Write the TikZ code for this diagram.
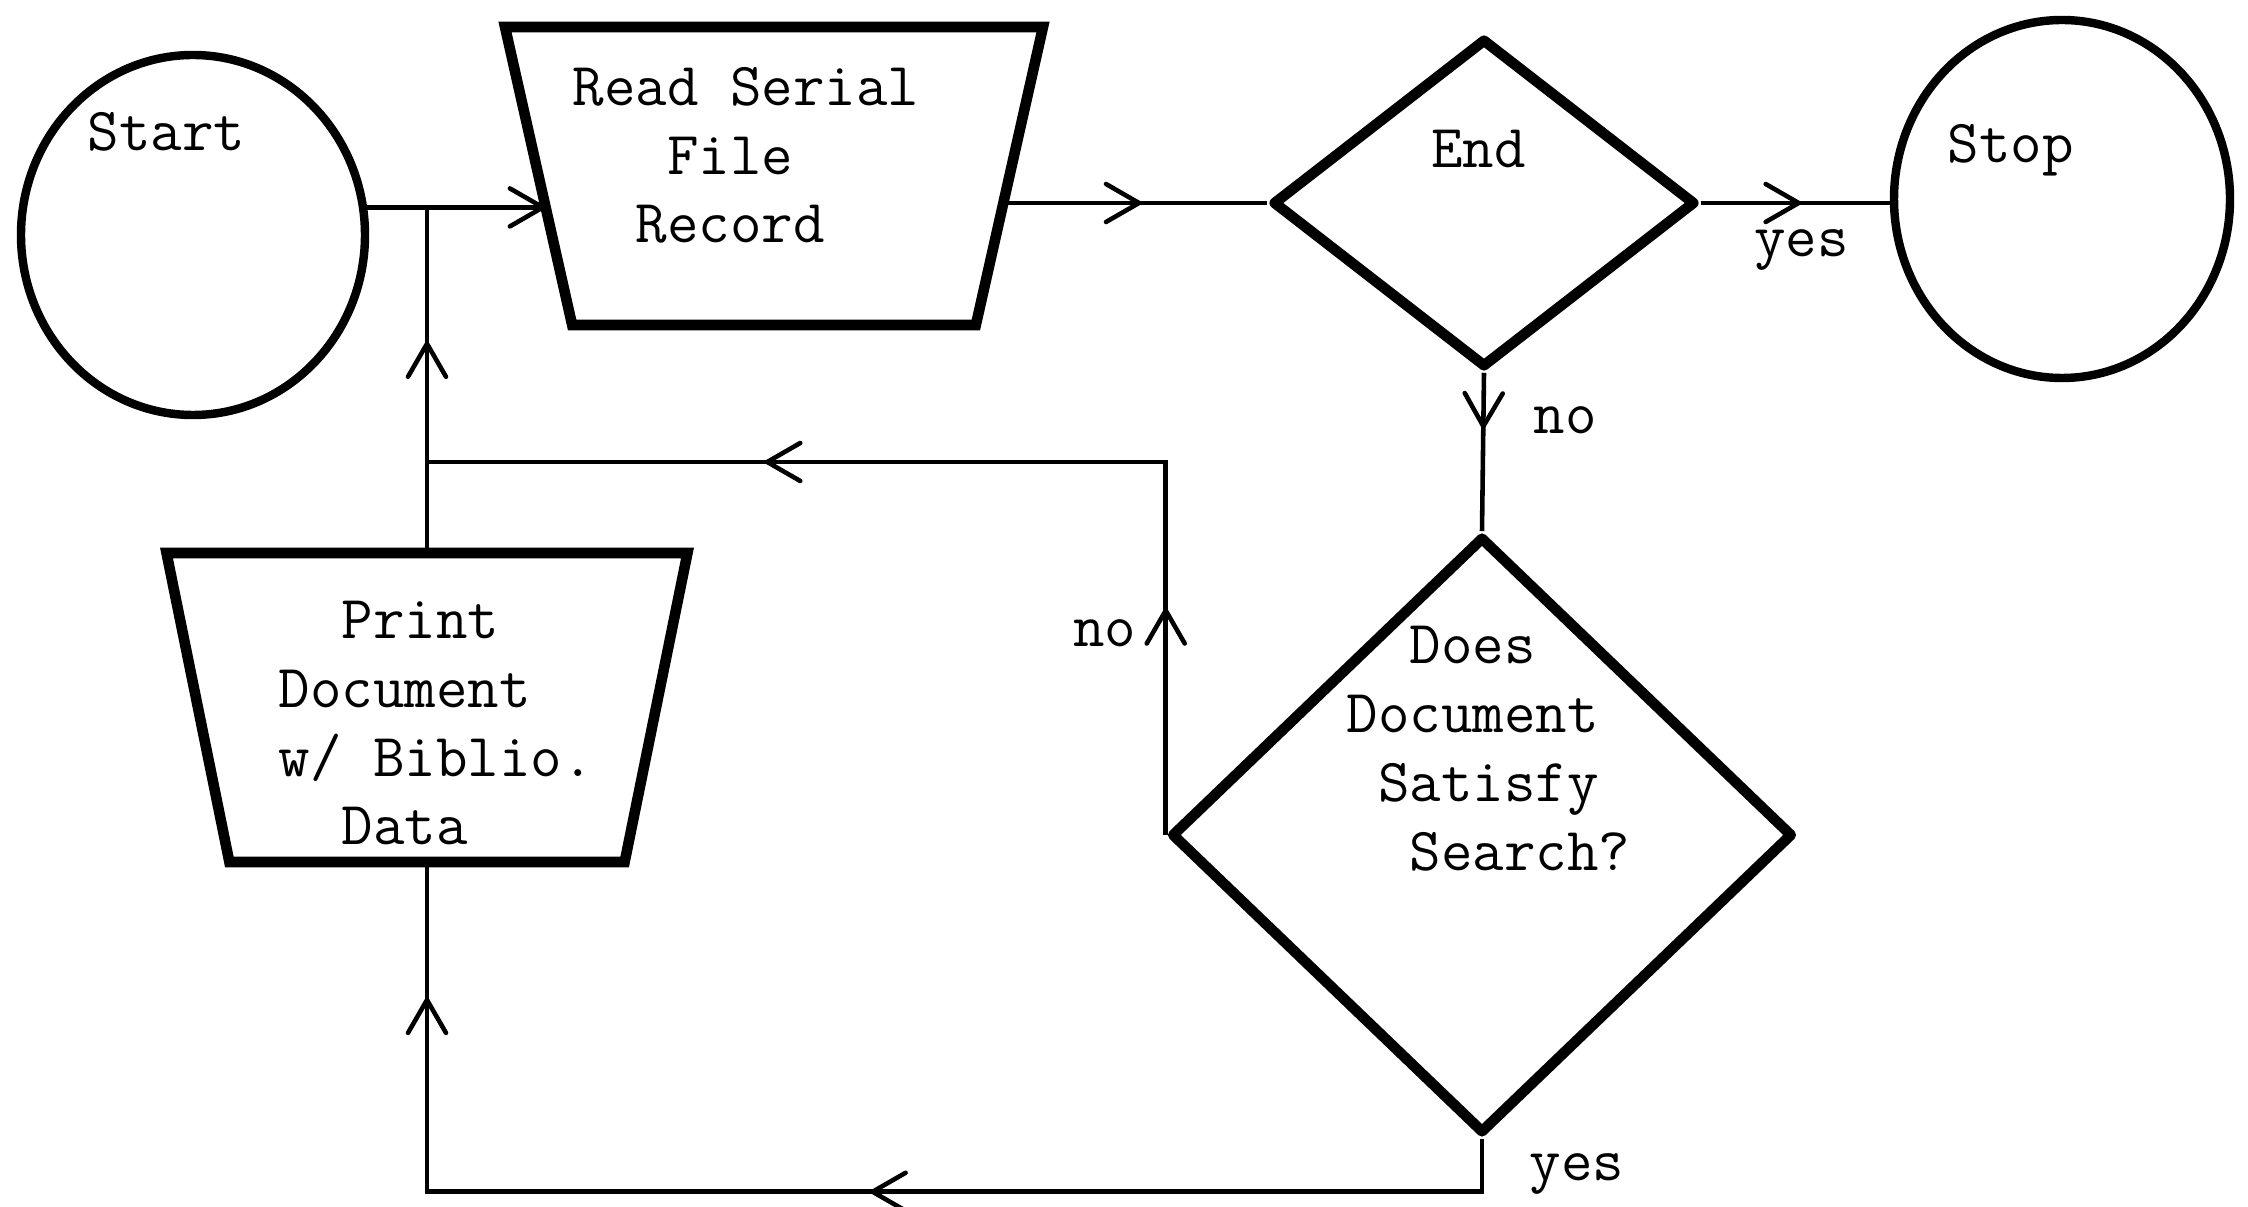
\documentclass[tikz,border=0pt]{standalone}
\usetikzlibrary{shapes.geometric, arrows.meta, positioning, calc, decorations.markings}

\tikzset{
    % Arrow tip used on all flow lines
    flowtip/.tip={Straight Barb[length=3.3mm, width=3.8mm, round]},
    % Node styles
    termbox/.style={
        ellipse,
        draw,
        line width=2.4pt,
        minimum width=3.44cm,
        minimum height=3.60cm,
        inner sep=0pt
    },
    iobox/.style={
        trapezium,
        draw,
        line width=3pt,
        shape border rotate=180,
        trapezium stretches body,
        trapezium angle=#1,
        text depth=0pt,
        inner sep=0pt
    },
    decbox/.style={
        diamond,
        draw,
        line width=3pt,
        line join=round,
        inner sep=0pt
    },
    textlabel/.style={
        font=\fontsize{17.4}{19.6}\selectfont\ttfamily,
        inner sep=0pt,
        align=left
    },
    % Line styles
    flowline/.style={
        line width=1.3pt
    },
    midarrow/.style={
        postaction={decorate, decoration={markings,
            mark=at position #1 with {\arrow{flowtip}}}}
    },
    twoarrows/.style 2 args={
        postaction={decorate, decoration={markings,
            mark=at position #1 with {\arrow{flowtip}},
            mark=at position #2 with {\arrow{flowtip}}}}
    }
}

\begin{document}
\begin{tikzpicture}
    \path[use as bounding box, fill=white] (0,0) rectangle (22.48,12.06);

    % Terminals
    \node[termbox] (start) at (1.93,9.71) {};
    \node[textlabel, anchor=base] (starttxt) at (1.665,10.55) {Start};
    \node[termbox, minimum width=3.36cm, minimum height=3.58cm] (stop) at (20.62,10.07) {};
    \node[textlabel, anchor=base] (stoptxt) at (20.105,10.435) {Stop};

    % Input / output
    \node[iobox=77.3, text height=2.98cm, minimum width=5.38cm] (read) at (7.74,10.30) {};
    \node[textlabel, anchor=base west] (readtxt) at (5.72,9.63)
        {Read Serial\\\phantom{xxx}File\\\phantom{xx}Record};
    \node[iobox=78.5, text height=3.09cm, minimum width=5.21cm] (print) at (4.27,4.985) {};
    \node[textlabel, anchor=base west] (printtxt) at (2.78,3.61)
        {\phantom{xx}Print\\Document\\w/ Biblio.\\\phantom{xx}Data};

    % Decisions
    \node[decbox, minimum width=4.23cm, minimum height=3.29cm] (end) at (14.84,10.03) {};
    \node[textlabel, anchor=base] (endtxt) at (14.785,10.38) {End};
    \node[decbox, minimum width=6.22cm, minimum height=5.97cm] (dec) at (14.82,3.71) {};
    \node[textlabel, anchor=base west] (dectxt) at (13.46,3.36)
        {\phantom{xx}Does\\Document\\\phantom{x}Satisfy\\\phantom{xx}Search?};

    % Branch labels
    \node[textlabel, anchor=base] (yesstop) at (18.015,9.49) {yes};
    \node[textlabel, anchor=base west] (noend) at (15.33,7.72) {no};
    \node[textlabel, anchor=base east] (nodec) at (11.37,5.59) {no};
    \node[textlabel, anchor=base west] (yesdec) at (15.29,0.26) {yes};

    % Turning points
    \coordinate (readin) at ($(start.9 -| read.west)+(0.12,0)$);
    \coordinate (readout) at ($(end.west -| read.east)+(-0.1,0)$);
    \coordinate (nojoin) at (print.north |- 0,7.44);
    \coordinate (yesturn) at ($(dec.south)+(0,-0.53)$);

    % Flow lines
    \draw[flowline, -{flowtip}] (start.9) -- (readin);
    \draw[flowline, midarrow=0.606] (print.north) -- (print.north |- start.9);
    \draw[flowline, midarrow=0.52] (readout) -- (end.west);
    \draw[flowline, midarrow=0.53] (end.east) -- (end.east -| stop.west);
    \draw[flowline, midarrow=0.352] (end.south) -- (dec.north);
    \draw[flowline, twoarrows={0.204}{0.696}] (dec.west) |- (nojoin);
    \draw[flowline, twoarrows={0.464}{0.909}] (dec.south) -- (yesturn) -| (print.south);
\end{tikzpicture}
\end{document}
